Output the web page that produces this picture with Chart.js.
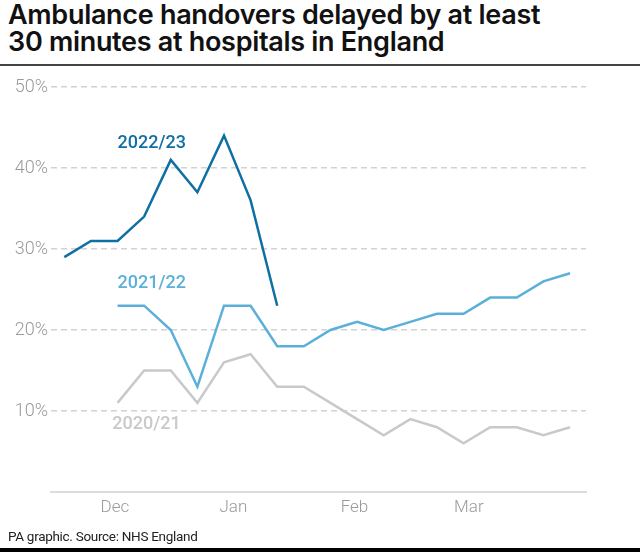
<!DOCTYPE html>
<html>
<head>
<meta charset="utf-8">
<script src="https://cdn.jsdelivr.net/npm/chart.js@4"></script>
<style>
  html, body { margin: 0; padding: 0; background: #fff; }
  #wrap { position: relative; width: 640px; height: 552px; overflow: hidden; font-family: Roboto, "Liberation Sans", sans-serif; }
  #title { position: absolute; left: 8px; top: 1px; font-family: Inter, Roboto, sans-serif; font-size: 27px; font-weight: 600; line-height: 27px; color: #111; letter-spacing: -0.3px; }
  #rule { position: absolute; left: 0; top: 64px; width: 640px; height: 2px; background: #444; }
  #foot { position: absolute; left: 8px; top: 528px; font-size: 13.5px; color: #222; letter-spacing: -0.3px; }
  #bottom { position: absolute; left: 0; top: 548px; width: 640px; height: 4px; background: #000; }
  canvas { position: absolute; left: 0; top: 0; }
</style>
</head>
<body>
<div id="wrap">
  <div id="title">Ambulance handovers delayed by at least<br>30 minutes at hospitals in England</div>
  <div id="rule"></div>
  <canvas id="myChart" width="640" height="552"></canvas>
  <div id="foot">PA graphic. Source: NHS England</div>
  <div id="bottom"></div>
</div>
<script>
// weekly points, 0 = mid November
var weeks = [0, 1, 2, 3, 4, 5, 6, 7, 8, 9, 10, 11, 12, 13, 14, 15, 16, 17, 18, 19]
var monthLabels = ["Dec", "Jan", "Feb", "Mar"]
var monthWeeks = [1.9, 6.35, 10.9, 15.2]
var yTicks = [0, 10, 20, 30, 40, 50]

var s2223 = [29, 31, 31, 34, 41, 37, 44, 36, 23]
var s2122 = [null, null, 23, 23, 20, 13, 23, 23, 18, 18, 20, 21, 20, 21, 22, 22, 24, 24, 26, 27]
var s2021 = [null, null, 11, 15, 15, 11, 16, 17, 13, 13, 11, 9, 7, 9, 8, 6, 8, 8, 7, 8]

function pts(vals) {
  return vals.map(function (v, i) { return { x: weeks[i], y: v } })
}

var seriesLabels = [
  { text: "2022/23", x: 2.0, y: 43, color: "#0f6fa5" },
  { text: "2021/22", x: 2.0, y: 25.7, color: "#5ab0d9" },
  { text: "2020/21", x: 1.8, y: 8.3, color: "#c9c9c9" }
]

var labelPlugin = {
  id: "seriesLabels",
  afterDatasetsDraw: function (chart) {
    var ctx = chart.ctx
    var xs = chart.scales.x, ys = chart.scales.y
    ctx.save()
    ctx.font = "500 18px Roboto"
    ctx.textBaseline = "middle"
    ctx.textAlign = "left"
    seriesLabels.forEach(function (l) {
      ctx.fillStyle = l.color
      ctx.fillText(l.text, xs.getPixelForValue(l.x), ys.getPixelForValue(l.y))
    })
    ctx.restore()
  }
}

var ctx = document.getElementById('myChart').getContext('2d')

var chart = new Chart(ctx, {
  type: 'line',
  data: {
    datasets: [
      { label: "2020/21", data: pts(s2021), borderColor: "#c9c9c9", borderWidth: 2.5, pointRadius: 0, tension: 0 },
      { label: "2021/22", data: pts(s2122), borderColor: "#5ab0d9", borderWidth: 2.5, pointRadius: 0, tension: 0 },
      { label: "2022/23", data: pts(s2223), borderColor: "#0f6fa5", borderWidth: 2.5, pointRadius: 0, tension: 0 }
    ]
  },
  options: {
    responsive: false,
    animation: false,
    layout: { padding: { top: 87, right: 54, bottom: 30, left: 0 } },
    plugins: { legend: { display: false }, tooltip: { enabled: false } },
    scales: {
      x: {
        type: 'linear',
        min: -0.5,
        max: 19.6,
        afterBuildTicks: function (scale) {
          scale.ticks = monthWeeks.map(function (v) { return { value: v } })
        },
        afterFit: function (scale) { scale.height = 30 },
        ticks: {
          autoSkip: false,
          maxRotation: 0,
          padding: 6,
          color: "#9a9a9a",
          font: { family: "Roboto", size: 17, weight: 300 },
          callback: function (v, i) { return monthLabels[i] }
        },
        grid: { display: false, drawTicks: false },
        border: { display: true, color: "#dddddd", width: 2 }
      },
      y: {
        min: 0,
        max: 50,
        afterBuildTicks: function (scale) {
          scale.ticks = yTicks.map(function (v) { return { value: v } })
        },
        afterFit: function (scale) { scale.width = 51 },
        ticks: {
          padding: 3,
          color: "#9a9a9a",
          font: { family: "Roboto", size: 18, weight: 300 },
          callback: function (v) { return v === 0 ? "" : v + "%" }
        },
        grid: {
          drawTicks: false,
          color: function (c) { return c.tick && c.tick.value === 0 ? "rgba(0,0,0,0)" : "#d2d2d2" },
          lineWidth: 1.5
        },
        border: { display: false, dash: [6, 4] }
      }
    }
  },
  plugins: [labelPlugin]
})
</script>
</body>
</html>
